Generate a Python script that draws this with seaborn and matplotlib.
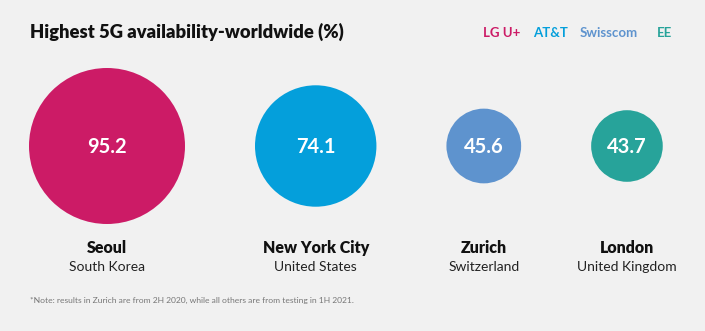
import numpy as np
import pandas as pd
import matplotlib
matplotlib.use("Agg")
import matplotlib.pyplot as plt
import seaborn as sns

cities = ["Seoul", "New York City", "Zurich", "London"]
countries = ["South Korea", "United States", "Switzerland", "United Kingdom"]
operators = ["LG U+", "AT&T", "Swisscom", "EE"]
values = [95.2, 74.1, 45.6, 43.7]
colors = ["#CC1B66", "#049FDB", "#5E93CE", "#27A39A"]

W, H, DPI = 705, 331, 100
BG = "#F1F1F1"
FONT = ["Lato", "DejaVu Sans"]

sns.set_theme(style="white")
plt.rcParams["font.family"] = FONT

fig = plt.figure(figsize=(W / DPI, H / DPI), dpi=DPI, facecolor=BG)
ax = fig.add_axes([0, 0, 1, 1])
ax.set_facecolor(BG)

px_per_unit = 78 / 95.2
radii = [v * px_per_unit for v in values]
gap = 70
xs = []
x = 29 + radii[0]
for i, r in enumerate(radii):
    if i > 0:
        x = xs[-1] + radii[i - 1] + gap + r
    xs.append(x)
cy = 146

df = pd.DataFrame({"city": cities, "x": xs, "y": [cy] * 4, "value": values})
sizes = {v: (2 * r * 72 / DPI) ** 2 for v, r in zip(values, radii)}
sns.scatterplot(data=df, x="x", y="y", hue="city", palette=dict(zip(cities, colors)),
                size="value", sizes=sizes, legend=False, linewidth=0, ax=ax)
ax.set_xlim(0, W)
ax.set_ylim(H, 0)
ax.axis("off")

for xi, v, c, co in zip(xs, values, cities, countries):
    ax.text(xi, cy + 1, f"{v}", color="white", fontsize=14.5, fontweight="bold",
            ha="center", va="center")
    ax.text(xi, 248, c, color="#111111", fontsize=11.5, fontweight="heavy",
            ha="center", va="center")
    ax.text(xi, 267, co, color="#222222", fontsize=10, ha="center", va="center")

ax.text(30, 32, "Highest 5G availability-worldwide (%)", fontsize=13.2,
        fontweight="heavy", color="#111111", ha="left", va="center")

leg_x = [483, 533, 580, 657]
for lx, op, col in zip(leg_x, operators, colors):
    ax.text(lx, 33, op, fontsize=9.5, fontweight="bold", color=col,
            ha="left", va="center")

ax.text(30, 300, "*Note: results in Zurich are from 2H 2020, while all others are from testing in 1H 2021.",
        fontsize=6.1, color="#777777", ha="left", va="center")

fig.savefig("out.png", dpi=DPI, facecolor=BG)
